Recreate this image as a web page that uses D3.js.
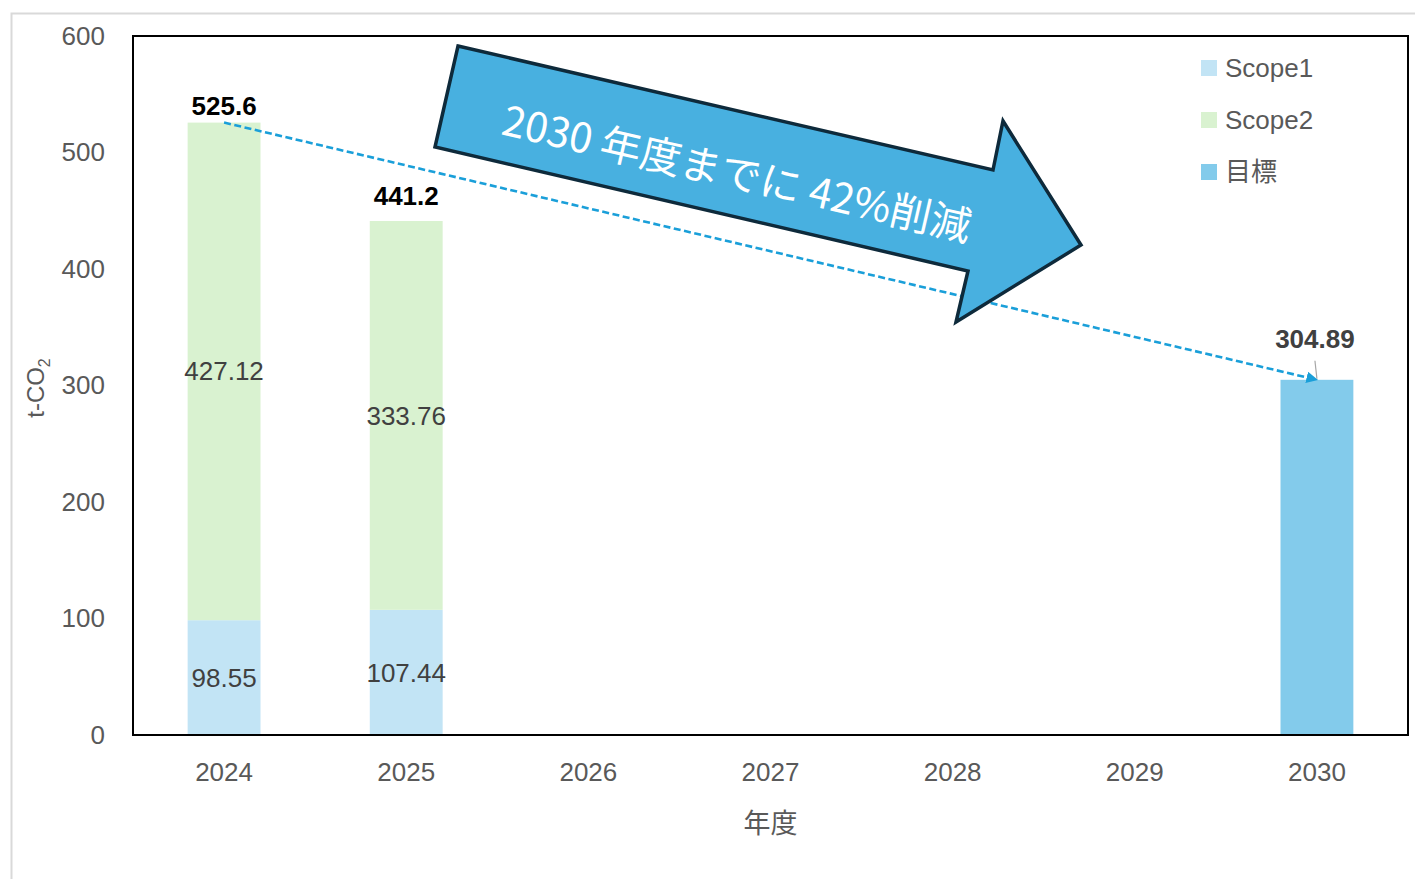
<!DOCTYPE html>
<html>
<head>
<meta charset="utf-8">
<script src="https://cdn.jsdelivr.net/npm/d3@7"></script>
<style>
  body { margin: 0; background: #fff; }
  svg text { font-family: "Liberation Sans", Arial, "Noto Sans CJK JP", sans-serif; }
</style>
</head>
<body>
<div id="chart"></div>
<script>
// data
var years = ["2024", "2025", "2026", "2027", "2028", "2029", "2030"];
var scope1 = [98.55, 107.44, null, null, null, null, null];
var scope2 = [427.12, 333.76, null, null, null, null, null];
var target = [null, null, null, null, null, null, 304.89];
var totals = ["525.6", "441.2"];
var yTicks = [0, 100, 200, 300, 400, 500, 600];
var legendNames = ["Scope1", "Scope2", "目標"];
var legendColors = ["#c2e4f5", "#d9f2d0", "#83cbeb"];
var arrowText = "2030 年度までに 42%削減";

var W = 1415, H = 879;
var margin = {top: 36, right: 7, bottom: 144, left: 133};
var width = W - margin.left - margin.right,
    height = H - margin.top - margin.bottom;
var cjk = "'Noto Sans CJK JP', sans-serif";

var svg = d3.select("#chart").append("svg")
    .attr("width", W)
    .attr("height", H);

// outer frame of the chart object
svg.append("rect")
    .attr("x", 11.5).attr("y", 13.5)
    .attr("width", W + 20).attr("height", H + 20)
    .attr("fill", "none")
    .attr("stroke", "#d9d9d9")
    .attr("stroke-width", 2);

var g = svg.append("g")
    .attr("transform", "translate(" + margin.left + "," + margin.top + ")");

var x = d3.scaleBand()
    .domain(years)
    .range([0, width])
    .paddingInner(0.6)
    .paddingOuter(0.3);

var y = d3.scaleLinear()
    .domain([0, 600])
    .range([height, 0]);

// bars
var stack = years.map(function(yr, i) {
    return {year: yr, s1: scope1[i], s2: scope2[i], t: target[i]};
});
var hasStack = stack.filter(d => d.s1 != null);

g.selectAll(".s1").data(hasStack)
    .enter().append("rect")
    .attr("x", d => x(d.year))
    .attr("width", x.bandwidth())
    .attr("y", d => y(d.s1))
    .attr("height", d => height - y(d.s1))
    .attr("fill", legendColors[0]);

g.selectAll(".s2").data(hasStack)
    .enter().append("rect")
    .attr("x", d => x(d.year))
    .attr("width", x.bandwidth())
    .attr("y", d => y(d.s1 + d.s2))
    .attr("height", d => y(d.s1) - y(d.s1 + d.s2))
    .attr("fill", legendColors[1]);

g.selectAll(".tg").data(stack.filter(d => d.t != null))
    .enter().append("rect")
    .attr("x", d => x(d.year))
    .attr("width", x.bandwidth())
    .attr("y", d => y(d.t))
    .attr("height", d => height - y(d.t))
    .attr("fill", legendColors[2]);

// inside labels
var cx = d => x(d.year) + x.bandwidth() / 2;
g.selectAll(".l1").data(hasStack)
    .enter().append("text")
    .attr("x", cx)
    .attr("y", d => y(d.s1 / 2))
    .attr("dy", "0.35em")
    .attr("text-anchor", "middle")
    .attr("font-size", 26)
    .attr("fill", "#404040")
    .text(d => d.s1.toFixed(2));

g.selectAll(".l2").data(hasStack)
    .enter().append("text")
    .attr("x", cx)
    .attr("y", d => y(d.s1 + d.s2 / 2))
    .attr("dy", "0.35em")
    .attr("text-anchor", "middle")
    .attr("font-size", 26)
    .attr("fill", "#404040")
    .text(d => d.s2.toFixed(2));

// totals (Excel left them at slightly different gaps)
var totalGap = [8, 16];
g.selectAll(".tot").data(hasStack)
    .enter().append("text")
    .attr("x", cx)
    .attr("y", (d, i) => y(d.s1 + d.s2) - totalGap[i])
    .attr("text-anchor", "middle")
    .attr("font-size", 26)
    .attr("font-weight", "bold")
    .attr("fill", "#000")
    .text((d, i) => totals[i]);

// target label with leader line
var tg = stack[6];
g.append("line")
    .attr("x1", cx(tg) - 2).attr("y1", y(tg.t) - 19)
    .attr("x2", cx(tg)).attr("y2", y(tg.t) - 1)
    .attr("stroke", "#a6a6a6").attr("stroke-width", 1.2);
g.append("text")
    .attr("x", cx(tg) - 2)
    .attr("y", y(tg.t) - 32)
    .attr("text-anchor", "middle")
    .attr("font-size", 26)
    .attr("font-weight", "bold")
    .attr("fill", "#404040")
    .text(tg.t.toFixed(2));

// axes
var yAxis = g.append("g")
    .call(d3.axisLeft(y).tickValues(yTicks).tickSize(0).tickPadding(28));
yAxis.select(".domain").remove();
yAxis.selectAll("text")
    .attr("font-size", 26)
    .attr("fill", "#595959")
    .style("font-family", "'Liberation Sans', Arial, sans-serif");

var xAxis = g.append("g")
    .attr("transform", "translate(0," + height + ")")
    .call(d3.axisBottom(x).tickSize(0).tickPadding(28));
xAxis.select(".domain").remove();
xAxis.selectAll("text")
    .attr("font-size", 26)
    .attr("fill", "#595959")
    .style("font-family", "'Liberation Sans', Arial, sans-serif");

// plot area frame
g.append("rect")
    .attr("x", 0).attr("y", 0)
    .attr("width", width).attr("height", height)
    .attr("fill", "none")
    .attr("stroke", "#000")
    .attr("stroke-width", 2);

// axis titles
svg.append("text")
    .attr("x", margin.left + width / 2)
    .attr("y", 833)
    .attr("text-anchor", "middle")
    .attr("font-size", 27)
    .attr("fill", "#595959")
    .style("font-family", cjk)
    .text("年度");

var yt = svg.append("text")
    .attr("transform", "translate(44,388) rotate(-90)")
    .attr("text-anchor", "middle")
    .attr("font-size", 24)
    .attr("fill", "#595959");
yt.append("tspan").text("t-CO");
yt.append("tspan").attr("font-size", 16).attr("dy", 6).text("2");

// dashed trend line from 2024 total to 2030 target
svg.append("defs").append("marker")
    .attr("id", "head")
    .attr("viewBox", "0 0 10 10")
    .attr("refX", 9).attr("refY", 5)
    .attr("markerWidth", 4.5).attr("markerHeight", 4.5)
    .attr("orient", "auto")
    .append("path")
    .attr("d", "M0,0 L10,5 L0,10 z")
    .attr("fill", "#1a9fd9");

g.append("line")
    .attr("x1", cx(stack[0]))
    .attr("y1", y(scope1[0] + scope2[0]))
    .attr("x2", cx(tg))
    .attr("y2", y(tg.t))
    .attr("stroke", "#1a9fd9")
    .attr("stroke-width", 2.6)
    .attr("stroke-dasharray", "7,3.5")
    .attr("marker-end", "url(#head)");

// big arrow shape
var arrowPts = [[458, 46], [993, 170], [1003, 121], [1081, 245], [956, 322], [968, 271], [435, 147]];
svg.append("polygon")
    .attr("points", arrowPts.map(p => p.join(",")).join(" "))
    .attr("fill", "#48b0e0")
    .attr("stroke", "#0e2a3b")
    .attr("stroke-width", 3.5)
    .attr("stroke-linejoin", "miter");

svg.append("text")
    .attr("transform", "translate(737,174) rotate(13)")
    .attr("text-anchor", "middle")
    .attr("dy", "0.35em")
    .attr("font-size", 41)
    .attr("fill", "#fff")
    .style("font-family", cjk)
    .text(arrowText);

// legend
var leg = svg.append("g").attr("transform", "translate(1201,58)");
legendNames.forEach(function(name, i) {
    var row = leg.append("g").attr("transform", "translate(0," + i * 52 + ")");
    row.append("rect")
        .attr("width", 16).attr("height", 16)
        .attr("y", 2)
        .attr("fill", legendColors[i]);
    row.append("text")
        .attr("x", 24).attr("y", 10)
        .attr("dy", "0.35em")
        .attr("font-size", 26)
        .attr("fill", "#595959")
        .style("font-family", i == 2 ? cjk : "'Liberation Sans', Arial, sans-serif")
        .text(name);
});
</script>
</body>
</html>
